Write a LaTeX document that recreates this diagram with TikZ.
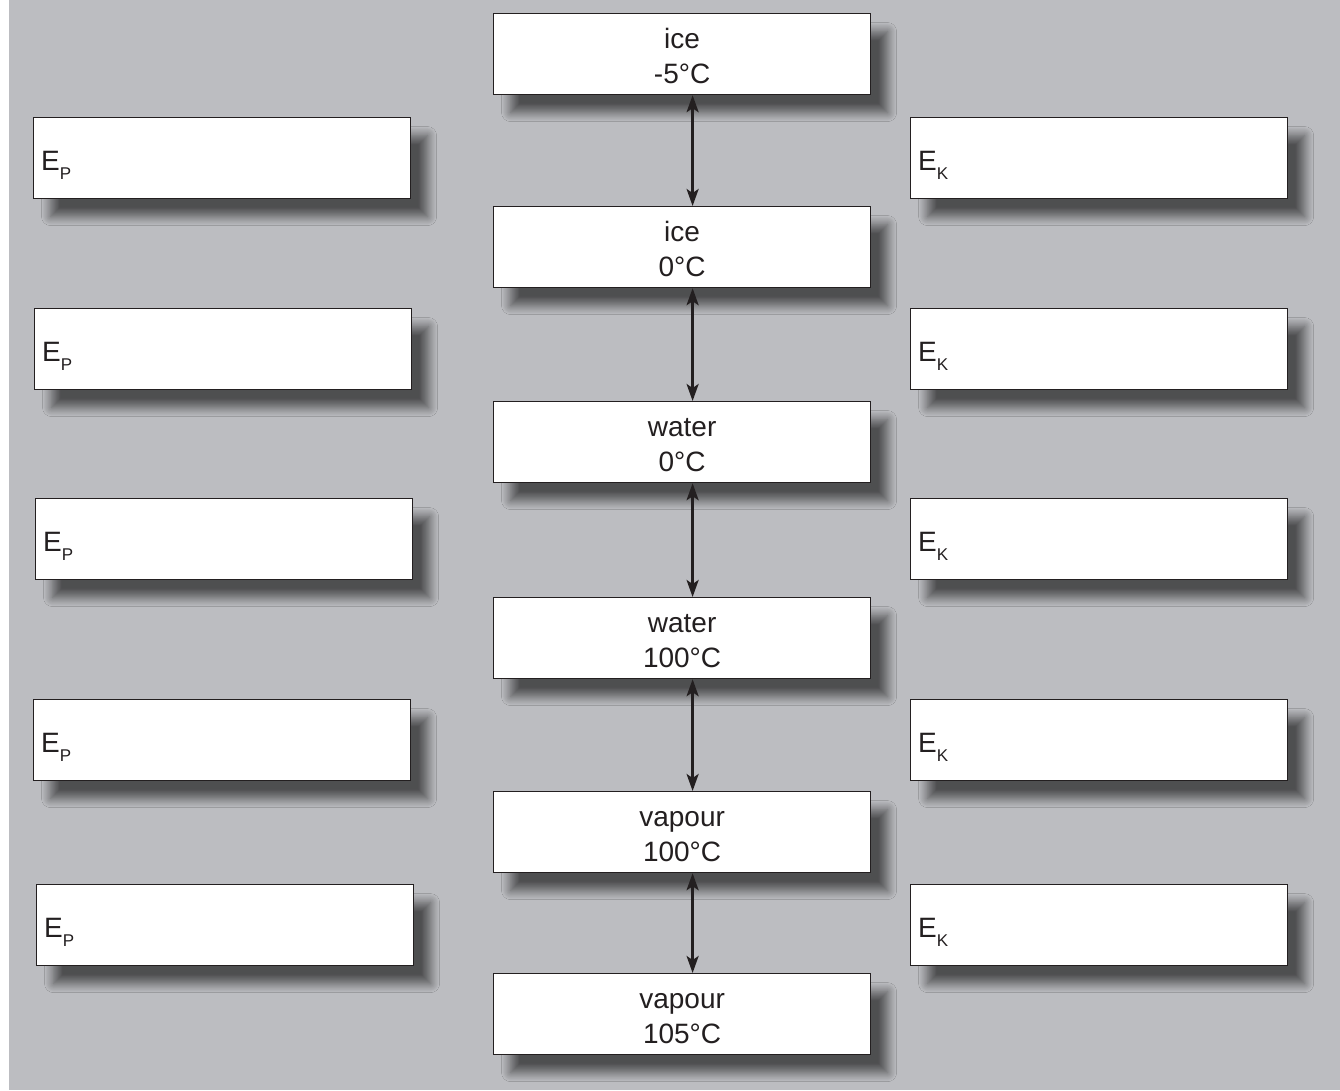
\documentclass[tikz,border=0pt]{standalone}
\usepackage{fontspec}
\setmainfont{Liberation Sans}
\usetikzlibrary{shadows.blur,arrows.meta}
\definecolor{bg}{RGB}{188,189,193}
\definecolor{ink}{RGB}{35,31,32}
\newcommand{\subE}[1]{E\raisebox{-9pt}{\fontsize{17}{17}\selectfont #1}}
\newcommand{\fl}{\rule{0pt}{24pt}}
\tikzset{
  box/.style={draw=ink, line width=1.2pt, fill=white, minimum width=377pt,
    minimum height=81pt, inner sep=0pt, anchor=north west,
    blur shadow={shadow xshift=17pt, shadow yshift=-18pt, shadow blur radius=9pt, shadow blur steps=12, shadow opacity=58},
    text=ink, font=\fontsize{28}{35}\selectfont, align=center},
  lab/.style={anchor=base west, text=ink, font=\fontsize{28}{35}\selectfont, inner sep=0pt},
  arr/.style={draw=ink, line width=2.5pt,
    {Stealth[length=17pt,width=12pt,inset=4pt]}-{Stealth[length=17pt,width=12pt,inset=4pt]}}
}
\begin{document}
\begin{tikzpicture}[x=1pt,y=-1pt]
\useasboundingbox (0,0) rectangle (1340,1090);
\fill[bg] (9,0) rectangle (1340,1090);
% centre column
\node[box] (c1) at (493,13)  {\fl ice\\-5°C};
\node[box] (c2) at (493,206) {\fl ice\\0°C};
\node[box] (c3) at (493,401) {\fl water\\0°C};
\node[box] (c4) at (493,597) {\fl water\\100°C};
\node[box] (c5) at (493,791) {\fl vapour\\100°C};
\node[box] (c6) at (493,973) {\fl vapour\\105°C};
% left column
\node[box] (l1) at (33,117) {};
\node[box] (l2) at (34,308) {};
\node[box] (l3) at (35,498) {};
\node[box] (l4) at (33,699) {};
\node[box] (l5) at (36,884) {};
% right column
\node[box] (r1) at (910,117) {};
\node[box] (r2) at (910,308) {};
\node[box] (r3) at (910,498) {};
\node[box] (r4) at (910,699) {};
\node[box] (r5) at (910,884) {};
% labels
\foreach \n in {1,...,5}{
  \node[lab] (l\n t) at ([xshift=8pt,yshift=-12pt]l\n.west) {\subE{P}};
  \node[lab] (r\n t) at ([xshift=8pt,yshift=-12pt]r\n.west) {\subE{K}};
}
% arrows
\foreach \a/\b in {c1/c2,c2/c3,c3/c4,c4/c5,c5/c6}{
  \draw[arr] ([xshift=10.5pt]\a.south) -- ([xshift=10.5pt]\b.north);
}
\end{tikzpicture}
\end{document}
